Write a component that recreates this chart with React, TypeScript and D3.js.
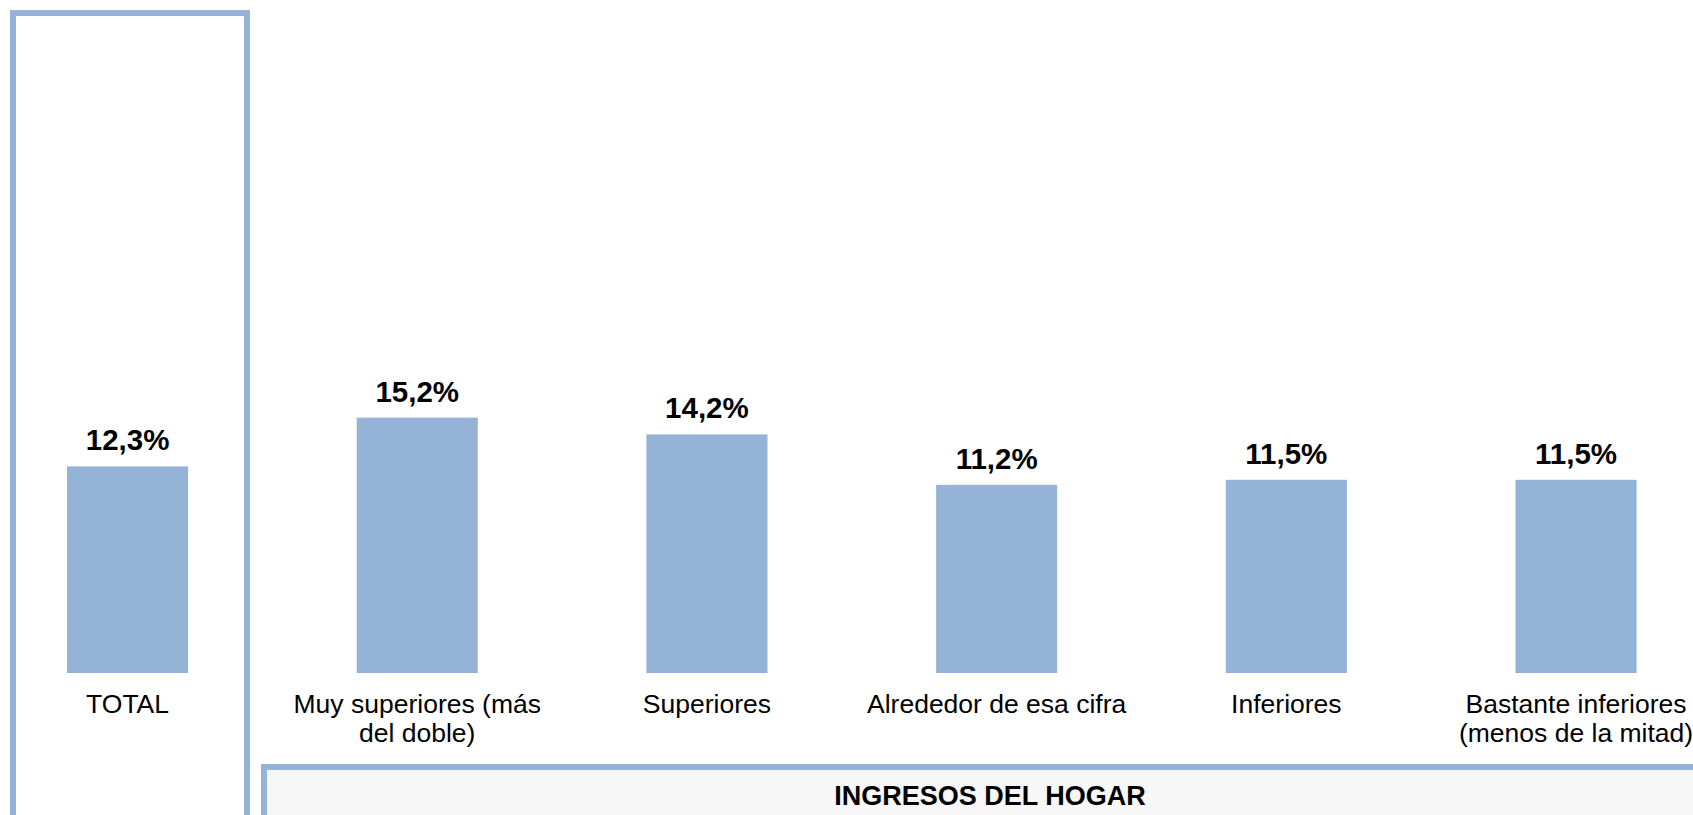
import React from 'react'
import * as d3 from 'd3'

// categories (line breaks as in the original labels)
const categories = [
  'TOTAL',
  'Muy superiores (más\ndel doble)',
  'Superiores',
  'Alrededor de esa cifra',
  'Inferiores',
  'Bastante inferiores\n(menos de la mitad)',
]
const values = [12.3, 15.2, 14.2, 11.2, 11.5, 11.5]
const groupTitle = 'INGRESOS DEL HOGAR'

const W = 1693
const H = 815
const BLUE = '#95b3d7'
const FONT = '"Liberation Sans", Arial, sans-serif'

const fmt = (v: number) => d3.format('.1f')(v).replace('.', ',') + '%'

export default function App() {
  // band scale runs a bit past the window on both sides, like the original
  const x = d3
    .scaleBand<string>()
    .domain(categories)
    .range([-17.3, 1720.9])
    .paddingInner(0.582)
    .paddingOuter(0.291)

  const y = d3.scaleLinear().domain([0, 16]).range([673, 404.2])

  const mid = (c: string) => x(c)! + x.bandwidth() / 2

  return (
    <div style={{ position: 'fixed', left: 0, top: 0, width: W, height: H, background: '#fff' }}>
      <svg width={W} height={H} style={{ display: 'block', fontFamily: FONT }}>
        {/* frame around TOTAL */}
        <rect x={13} y={13} width={234} height={H + 20} fill="none" stroke={BLUE} strokeWidth={6} />

        {/* group box at the bottom */}
        <rect x={264} y={767} width={W} height={80} fill="#f7f7f7" stroke={BLUE} strokeWidth={6} />
        <text x={990} y={805} textAnchor="middle" fontSize={27} fontWeight="bold" fill="#000">
          {groupTitle}
        </text>

        <g>
          {categories.map((c, i) => (
            <rect
              key={c}
              x={x(c)}
              y={y(values[i])}
              width={x.bandwidth()}
              height={y(0) - y(values[i])}
              fill={BLUE}
            />
          ))}
        </g>

        <g>
          {categories.map((c, i) => (
            <text
              key={c}
              x={mid(c)}
              y={y(values[i]) - 16}
              textAnchor="middle"
              fontSize={29.5}
              fontWeight="bold"
              fill="#000"
            >
              {fmt(values[i])}
            </text>
          ))}
        </g>

        <g>
          {categories.map(c => (
            <text key={c} x={mid(c)} y={713} textAnchor="middle" fontSize={26.5} fill="#000">
              {c.split('\n').map((line, j) => (
                <tspan key={j} x={mid(c)} dy={j === 0 ? 0 : 29}>
                  {line}
                </tspan>
              ))}
            </text>
          ))}
        </g>
      </svg>
    </div>
  )
}
